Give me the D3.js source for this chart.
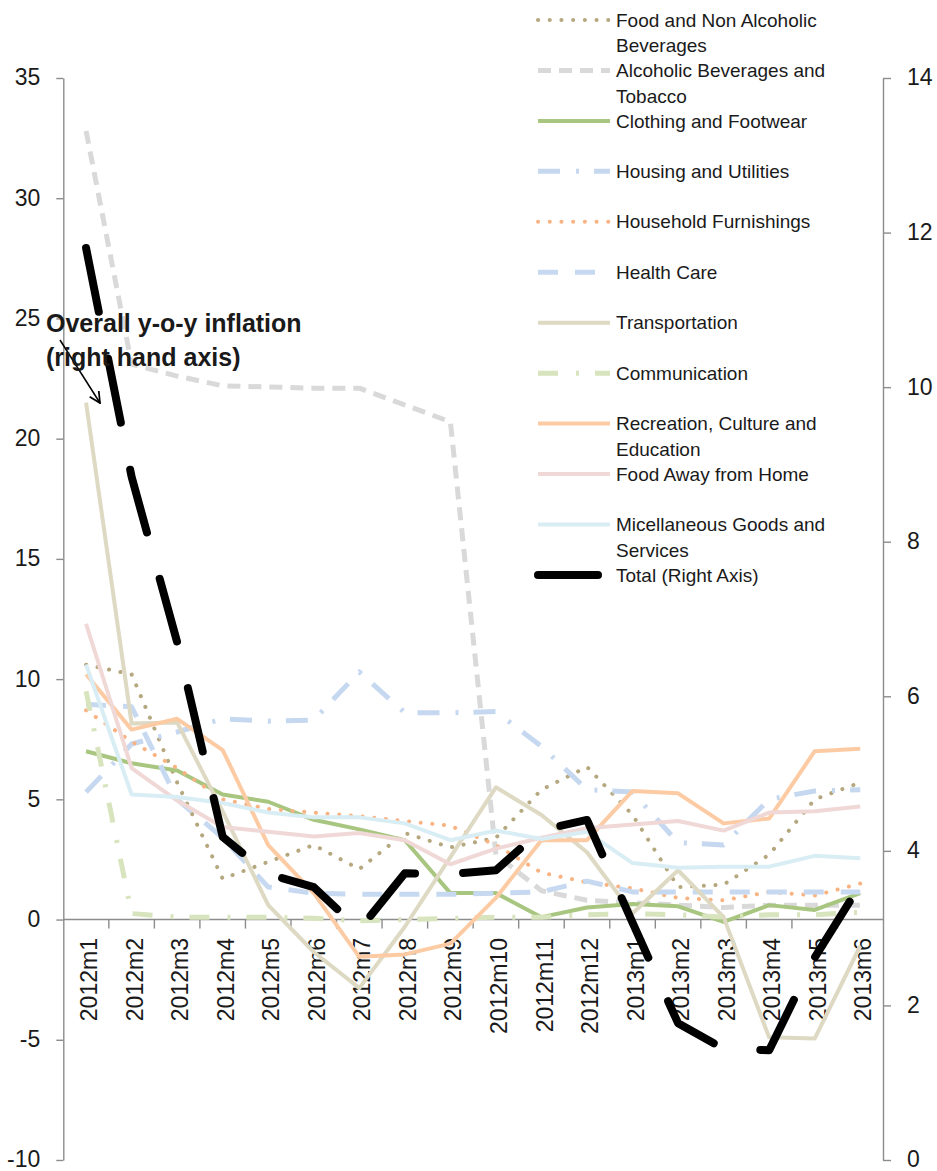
<!DOCTYPE html>
<html>
<head>
<meta charset="utf-8">
<script src="https://cdn.jsdelivr.net/npm/d3@7"></script>
<style>
body { margin: 0; background: #fff; }
svg { display: block; }
text { font-family: "Liberation Sans", Arial, sans-serif; fill: #1a1a1a; }
</style>
</head>
<body>
<svg width="937" height="1171"></svg>
<script>
var months = ["2012m1","2012m2","2012m3","2012m4","2012m5","2012m6","2012m7","2012m8","2012m9",
  "2012m10","2012m11","2012m12","2013m1","2013m2","2013m3","2013m4","2013m5","2013m6"];

var foodNonAlc   = [10.6, 10.2, 5.7, 1.7, 2.4, 3.1, 2.1, 3.6, 3.0, 3.4, 5.4, 6.35, 4.35, 1.35, 1.45, 2.7, 5.0, 5.7];
var alcohol      = [32.8, 23.1, 22.6, 22.2, 22.15, 22.1, 22.1, 21.4, 20.7, 2.7, 1.2, 0.8, 0.7, 0.6, 0.5, 0.6, 0.6, 0.6];
var clothing     = [7.0, 6.5, 6.2, 5.2, 4.9, 4.15, 3.75, 3.3, 1.1, 1.1, 0.1, 0.5, 0.65, 0.55, -0.1, 0.6, 0.4, 1.1];
var housing      = [5.3, 7.3, 7.8, 8.35, 8.25, 8.3, 10.3, 8.6, 8.6, 8.65, 7.2, 5.4, 5.3, 3.2, 3.1, 5.0, 5.35, 5.4];
var furnishings  = [8.7, 7.4, 6.3, 5.0, 4.6, 4.45, 4.3, 4.1, 3.9, 3.1, 1.95, 1.55, 1.3, 0.9, 0.8, 1.15, 1.0, 1.5];
var health       = [8.95, 8.85, 5.0, 3.4, 1.35, 1.1, 1.05, 1.05, 1.05, 1.1, 1.15, 1.6, 1.15, 1.15, 1.15, 1.15, 1.15, 1.15];
var transport    = [21.5, 8.15, 8.2, 4.5, 0.6, -1.35, -2.85, -0.3, 2.6, 5.5, 4.35, 2.8, 0.25, 2.05, 0.1, -4.9, -4.95, -1.1];
var communic     = [9.5, 0.25, 0.1, 0.1, 0.1, 0.05, -0.05, 0.0, 0.05, 0.1, 0.1, 0.2, 0.25, 0.2, 0.1, 0.2, 0.2, 0.3];
var recreation   = [10.2, 7.9, 8.35, 7.05, 3.1, 1.1, -1.55, -1.45, -1.0, 0.9, 3.3, 3.3, 5.35, 5.25, 4.0, 4.2, 7.0, 7.1];
var foodAway     = [12.3, 6.3, 4.95, 3.85, 3.65, 3.45, 3.6, 3.3, 2.3, 2.95, 3.4, 3.8, 3.95, 4.1, 3.7, 4.45, 4.5, 4.7];
var misc         = [10.6, 5.2, 5.1, 4.85, 4.45, 4.25, 4.25, 4.0, 3.3, 3.7, 3.35, 3.65, 2.35, 2.15, 2.2, 2.2, 2.65, 2.55];
var total        = [11.8, 8.84, 6.7, 4.18, 3.7, 3.53, 2.98, 3.71, 3.7, 3.75, 4.27, 4.4, 3.07, 1.77, 1.44, 1.42, 2.62, 3.56];

var leftTicks = [-10, -5, 0, 5, 10, 15, 20, 25, 30, 35];
var rightTicks = [0, 2, 4, 6, 8, 10, 12, 14];

// legend order = drawing order, total goes on top against the right axis
var series = [
  {name: ["Food and Non Alcoholic", "Beverages"], vals: foodNonAlc, color: "#b5a87f", w: 4, dash: "0.1,11.6", cap: "round"},
  {name: ["Alcoholic Beverages and", "Tobacco"], vals: alcohol, color: "#d9d9d9", w: 5, dash: "13,8", cap: "butt"},
  {name: ["Clothing and Footwear"], vals: clothing, color: "#a8c680", w: 4, dash: null, cap: "butt"},
  {name: ["Housing and Utilities"], vals: housing, color: "#c5d8f0", w: 5, dash: "22,16,3,15", cap: "butt"},
  {name: ["Household Furnishings"], vals: furnishings, color: "#f9b383", w: 4, dash: "0.1,11.6", cap: "round"},
  {name: ["Health Care"], vals: health, color: "#c6d9f1", w: 5, dash: "20,17", cap: "butt"},
  {name: ["Transportation"], vals: transport, color: "#ddd9c3", w: 4, dash: null, cap: "butt"},
  {name: ["Communication"], vals: communic, color: "#d7e4bd", w: 5, dash: "20,18,3,16", cap: "butt"},
  {name: ["Recreation, Culture and", "Education"], vals: recreation, color: "#fccba4", w: 4, dash: null, cap: "butt"},
  {name: ["Food Away from Home"], vals: foodAway, color: "#f0d8d7", w: 4, dash: null, cap: "butt"},
  {name: ["Micellaneous Goods and", "Services"], vals: misc, color: "#d9edf4", w: 4, dash: null, cap: "butt"},
  {name: ["Total (Right Axis)"], vals: total, color: "#000", w: 8, dash: "65,48", cap: "round", right: true}
];

var svg = d3.select("svg");
var axisColor = "#8c8c8c";

var x = d3.scaleBand().domain(months).range([63.3, 883]);
var yL = d3.scaleLinear().domain([-10, 35]).range([1160, 78]);
var yR = d3.scaleLinear().domain([0, 14]).range([1160, 78]);
var cx = function(m) { return x(m) + x.bandwidth() / 2; };
var plain = function(d) { return String(d); };   // keep a plain hyphen for negatives

// left axis
var gl = svg.append("g").attr("transform", "translate(63.3,0)")
  .call(d3.axisLeft(yL).tickValues(leftTicks).tickFormat(plain).tickSize(7).tickSizeOuter(0).tickPadding(16));
// right axis
var gr = svg.append("g").attr("transform", "translate(883,0)")
  .call(d3.axisRight(yR).tickValues(rightTicks).tickFormat(plain).tickSize(8).tickSizeOuter(0).tickPadding(16));
[gl, gr].forEach(function(g) {
  g.select(".domain").attr("stroke", axisColor).attr("stroke-width", 1.4);
  g.selectAll(".tick line").attr("stroke", axisColor).attr("stroke-width", 1.4);
  g.selectAll(".tick text").attr("font-size", 23).attr("fill", "#1a1a1a").attr("dy", "0.3em")
    .style("font-family", "'Liberation Sans', Arial, sans-serif");
});

// category axis sits at zero on the left scale
var y0 = yL(0);
var gx = svg.append("g");
gx.append("line").attr("x1", x.range()[0]).attr("x2", x.range()[1])
  .attr("y1", y0).attr("y2", y0).attr("stroke", axisColor).attr("stroke-width", 1.4);
gx.selectAll(".xt").data(months.slice(1)).enter().append("line")
  .attr("x1", function(d) { return x(d); }).attr("x2", function(d) { return x(d); })
  .attr("y1", y0).attr("y2", y0 + 9).attr("stroke", axisColor).attr("stroke-width", 1.4);
gx.selectAll(".xl").data(months).enter().append("text")
  .attr("transform", function(d) { return "translate(" + (cx(d) + 3) + "," + (y0 + 18.5) + ") rotate(-90)"; })
  .attr("text-anchor", "end").attr("dy", "0.35em").attr("font-size", 23)
  .text(function(d) { return d; });

// series lines
var gLines = svg.append("g");
series.forEach(function(s) {
  var ys = s.right ? yR : yL;
  var line = d3.line().x(function(d, i) { return cx(months[i]); }).y(function(d) { return ys(d); });
  gLines.append("path").datum(s.vals)
    .attr("d", line)
    .attr("fill", "none")
    .attr("stroke", s.color)
    .attr("stroke-width", s.w)
    .attr("stroke-linecap", s.cap)
    .attr("stroke-linejoin", "round")
    .attr("stroke-dasharray", s.dash);
});

// legend
var leg = svg.append("g");
series.forEach(function(s, i) {
  var ly = 20 + i * 50.45;
  leg.append("line").attr("x1", 538).attr("x2", s.right ? 598 : 610)
    .attr("y1", ly).attr("y2", ly)
    .attr("stroke", s.color).attr("stroke-width", s.w)
    .attr("stroke-linecap", s.cap).attr("stroke-dasharray", s.dash);
  s.name.forEach(function(t, k) {
    leg.append("text").attr("x", 616).attr("y", ly + k * 25.5).attr("dy", "0.35em")
      .attr("font-size", 19).text(t);
  });
});

// annotation
svg.append("defs").append("marker")
  .attr("id", "arr").attr("viewBox", "0 0 10 10").attr("refX", 9).attr("refY", 5)
  .attr("markerWidth", 9).attr("markerHeight", 9).attr("orient", "auto")
  .append("path").attr("d", "M1,1 L9,5 L1,9").attr("fill", "none").attr("stroke", "#000").attr("stroke-width", 1.3);
svg.append("line").attr("x1", 60).attr("y1", 340).attr("x2", 100).attr("y2", 403)
  .attr("stroke", "#000").attr("stroke-width", 1.5).attr("marker-end", "url(#arr)");
var ann = svg.append("text").attr("font-size", 25).attr("font-weight", "bold");
ann.append("tspan").attr("x", 46).attr("y", 332).text("Overall y-o-y inflation");
ann.append("tspan").attr("x", 46).attr("y", 366).text("(right hand axis)");
</script>
</body>
</html>
